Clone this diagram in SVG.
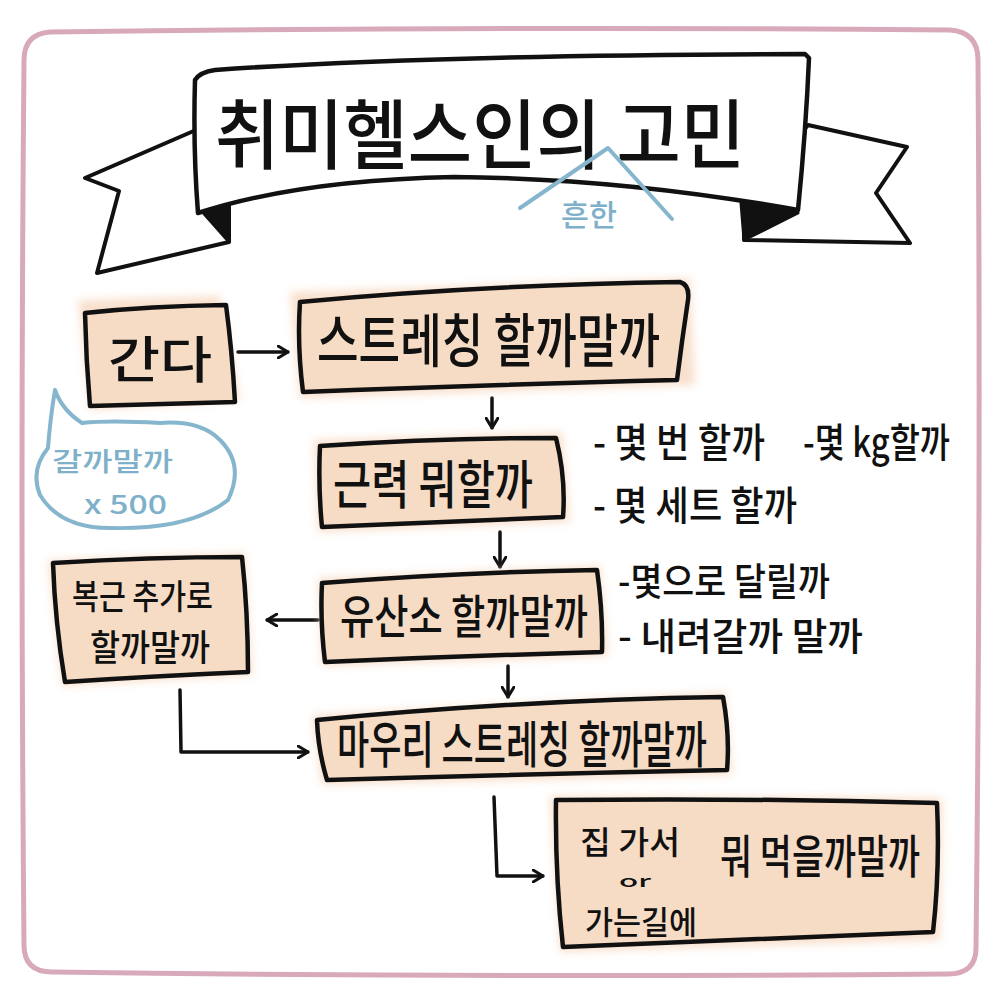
<svg xmlns="http://www.w3.org/2000/svg" width="1000" height="1000" viewBox="0 0 1000 1000">
<defs>
<style>
.box{fill:#f7dcc5;stroke:#111;stroke-width:4.5;stroke-linejoin:round}
.glow{fill:#f6d3b8;opacity:.7}
.t{font-family:"Noto Sans CJK KR","Noto Sans",sans-serif;font-weight:500;fill:#111;dominant-baseline:central}
.b{fill:#7eb0c9}
.con{fill:none;stroke:#111;stroke-width:3.5;stroke-linecap:round;stroke-linejoin:round}
.blue{fill:none;stroke:#86b6cd;stroke-width:4;stroke-linecap:round;stroke-linejoin:round}
</style>
<filter id="blur" x="-10%" y="-20%" width="120%" height="140%"><feGaussianBlur stdDeviation="4"/></filter>
<marker id="chev" viewBox="0 0 12 14" refX="11" refY="7" markerWidth="12" markerHeight="14" markerUnits="userSpaceOnUse" orient="auto">
<path d="M1,1 L11,7 L1,13" fill="none" stroke="#111" stroke-width="3" stroke-linecap="round" stroke-linejoin="round"/>
</marker>
</defs>
<rect width="1000" height="1000" fill="#fff"/>
<path d="M50,32 Q500,26 950,30 Q978,32 978,60 Q981,500 976,948 Q976,974 948,974 Q500,978 52,972 Q24,972 24,945 Q20,500 24,60 Q24,34 50,32 Z" fill="none" stroke="#d8a9bb" stroke-width="5"/>

<g id="banner">
<path d="M196,130 L85,178 L119,191 L97,273 L229,242 L229,203 Z" fill="#fff" stroke="#111" stroke-width="4" stroke-linejoin="round"/>
<path d="M198,207 L229,203 L229,242 Z" fill="#111" stroke="#111" stroke-width="3" stroke-linejoin="round"/>
<path d="M808,125 L907,147 L876,193 L910,243 L744,240 L744,203 Z" fill="#fff" stroke="#111" stroke-width="4" stroke-linejoin="round"/>
<path d="M741,203 L798,213 L744,240 Z" fill="#111" stroke="#111" stroke-width="3" stroke-linejoin="round"/>
<path d="M195,80 Q200,72 215,70 Q420,55 805,54 L809,58 Q806,130 798,210 Q620,178 454,177 Q300,180 198,213 Q193,150 195,80 Z" fill="#fff" stroke="#111" stroke-width="4.5" stroke-linejoin="round"/>
<text class="t" x="215" y="130" font-size="76" font-weight="700" textLength="530" lengthAdjust="spacingAndGlyphs">취미헬스인의 고민</text>
<polyline class="blue" points="520,208 608,148 672,219" stroke-width="3"/>
<text class="t b" x="561" y="213" font-size="30" textLength="56" lengthAdjust="spacingAndGlyphs">흔한</text>
</g>

<g id="bubble">
<path class="blue" d="M55,390 Q50,420 48,448 Q30,470 40,495 Q60,528 110,528 Q190,530 228,500 Q245,465 220,440 Q200,420 160,423 Q110,420 82,423 Q62,410 55,390 Z"/>
<text class="t b" x="52" y="459" font-size="26" textLength="121" lengthAdjust="spacingAndGlyphs">갈까말까</text>
<text class="t b" x="84" y="502" font-size="26" textLength="83" lengthAdjust="spacingAndGlyphs">x 500</text>
</g>

<g id="connectors">
<path class="con" d="M238,352 L288,352" marker-end="url(#chev)"/>
<path class="con" d="M492,398 L492,428" marker-end="url(#chev)"/>
<path class="con" d="M500,532 L500,567" marker-end="url(#chev)"/>
<path class="con" d="M318,620 L267,620" marker-end="url(#chev)"/>
<path class="con" d="M508,666 L508,697" marker-end="url(#chev)"/>
<path class="con" d="M180,690 L181,752 L308,752" marker-end="url(#chev)"/>
<path class="con" d="M494,797 L497,876 L543,876" marker-end="url(#chev)"/>
</g>

<g id="n-gan">
<path class="glow" filter="url(#blur)" d="M78,300 L220,296 L240,400 L90,410 Z"/>
<path class="box" d="M85,313 Q150,306 226,305 Q232,350 235,402 Q160,404 90,406 Q86,360 85,313 Z"/>
<text class="t" x="108" y="356" font-size="50" textLength="104" lengthAdjust="spacingAndGlyphs">간다</text>
</g>

<g id="n-stretch">
<path class="glow" filter="url(#blur)" d="M290,292 L690,278 L695,385 L300,398 Z"/>
<path class="box" d="M300,302 Q480,285 680,282 Q690,285 688,300 Q682,340 677,380 Q480,385 303,392 Q297,345 300,302 Z"/>
<text class="t" x="317" y="337" font-size="58" textLength="343" lengthAdjust="spacingAndGlyphs">스트레칭 할까말까</text>
</g>

<g id="n-muscle">
<path class="glow" filter="url(#blur)" d="M314,440 L562,432 L570,522 L318,532 Z"/>
<path class="box" d="M320,446 Q440,438 556,438 Q566,478 563,517 Q440,522 322,527 Q318,486 320,446 Z"/>
<text class="t" x="333" y="481" font-size="52" textLength="200" lengthAdjust="spacingAndGlyphs">근력 뭐할까</text>
</g>

<g id="n-cardio">
<path class="glow" filter="url(#blur)" d="M318,578 L600,566 L608,656 L322,666 Z"/>
<path class="box" d="M322,583 Q460,572 597,570 Q603,612 602,652 Q460,656 325,662 Q320,622 322,583 Z"/>
<text class="t" x="340" y="613" font-size="46" textLength="248" lengthAdjust="spacingAndGlyphs">유산소 할까말까</text>
</g>

<g id="n-abs">
<path class="glow" filter="url(#blur)" d="M48,560 L245,553 L252,675 L62,686 Z"/>
<path class="box" d="M53,563 Q150,557 242,557 Q248,612 248,672 Q155,676 65,682 Q55,622 53,563 Z"/>
<text class="t" x="72" y="594" font-size="34" textLength="141" lengthAdjust="spacingAndGlyphs">복근 추가로</text>
<text class="t" x="90" y="645" font-size="36" textLength="120" lengthAdjust="spacingAndGlyphs">할까말까</text>
</g>

<g id="n-finish">
<path class="glow" filter="url(#blur)" d="M312,715 L725,692 L732,775 L322,785 Z"/>
<path class="box" d="M317,720 Q520,700 723,697 Q730,735 727,770 Q525,774 327,780 Q318,750 317,720 Z"/>
<text class="t" x="337" y="741" font-size="50" textLength="370" lengthAdjust="spacingAndGlyphs">마우리 스트레칭 할까말까</text>
</g>

<g id="n-eat">
<path class="glow" filter="url(#blur)" d="M550,796 L942,798 L940,940 L560,952 Z"/>
<path class="box" d="M556,800 Q750,798 937,803 Q940,870 933,932 Q750,940 563,947 Q555,875 556,800 Z"/>
<text class="t" x="580" y="840" font-size="32" textLength="100" lengthAdjust="spacingAndGlyphs">집 가서</text>
<text class="t" x="619" y="880" font-size="16" textLength="32" lengthAdjust="spacingAndGlyphs">or</text>
<text class="t" x="585" y="920" font-size="32" textLength="112" lengthAdjust="spacingAndGlyphs">가는길에</text>
<text class="t" x="720" y="853" font-size="46" textLength="200" lengthAdjust="spacingAndGlyphs">뭐 먹을까말까</text>
</g>

<g id="notes">
<text class="t" x="593" y="440" font-size="40" textLength="172" lengthAdjust="spacingAndGlyphs">- 몇 번 할까</text>
<text class="t" x="803" y="440" font-size="40" textLength="147" lengthAdjust="spacingAndGlyphs">-몇 kg할까</text>
<text class="t" x="593" y="503" font-size="40" textLength="204" lengthAdjust="spacingAndGlyphs">- 몇 세트 할까</text>
<text class="t" x="618" y="578" font-size="38" textLength="212" lengthAdjust="spacingAndGlyphs">-몇으로 달릴까</text>
<text class="t" x="618" y="633" font-size="38" textLength="245" lengthAdjust="spacingAndGlyphs">- 내려갈까 말까</text>
</g>
</svg>
